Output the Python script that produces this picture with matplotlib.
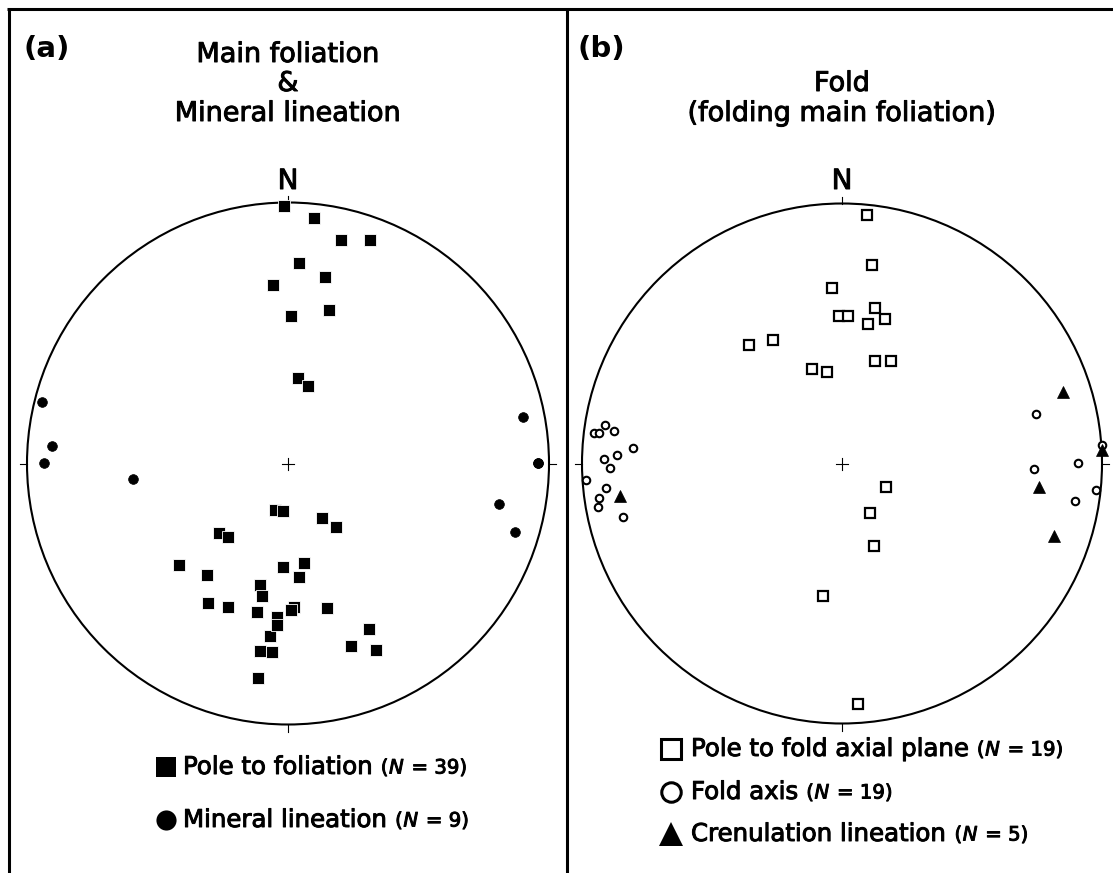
import matplotlib
matplotlib.use('Agg')
import matplotlib.pyplot as plt
import matplotlib.patheffects as pe
from matplotlib.patches import Circle

plt.rcParams['font.family'] = ['DejaVu Sans']

# --- data: positions on the equal-area net (east, north), unit radius ---
# (a) pole to foliation, N = 39
fol_e = [-0.014, 0.101, 0.202, 0.313, 0.042, 0.142, -0.057, 0.158, 0.010, 0.038, 0.078,
         -0.050, -0.018, 0.129, 0.185, -0.263, -0.230, -0.418, -0.310, -0.018, 0.061,
         0.041, -0.106, -0.098, -0.307, -0.230, -0.119, -0.069, -0.042, -0.042, 0.023,
         0.010, 0.149, 0.309, 0.241, 0.337, -0.106, -0.061, -0.114]
fol_n = [0.987, 0.941, 0.856, 0.856, 0.769, 0.716, 0.685, 0.588, 0.565, 0.329, 0.297,
         -0.178, -0.182, -0.210, -0.242, -0.267, -0.283, -0.390, -0.426, -0.398, -0.382,
         -0.434, -0.466, -0.507, -0.534, -0.550, -0.570, -0.660, -0.587, -0.618, -0.549,
         -0.561, -0.554, -0.634, -0.698, -0.713, -0.718, -0.722, -0.822]

# (a) mineral lineation, N = 9 (one hidden under another)
lin_e = [-0.942, -0.905, -0.934, -0.594, 0.902, 0.957, 0.957, 0.810, 0.870]
lin_n = [0.237, 0.066, 0.002, -0.061, 0.177, 0.002, 0.002, -0.155, -0.262]

# (b) pole to fold axial plane, N = 19
fap_e = [0.097, 0.117, -0.038, -0.010, 0.024, 0.127, 0.101, 0.165, -0.267, -0.359,
         -0.114, -0.059, 0.127, 0.190, 0.169, 0.107, 0.122, -0.074, 0.062]
fap_n = [0.957, 0.763, 0.676, 0.567, 0.567, 0.599, 0.535, 0.556, 0.475, 0.456,
         0.362, 0.351, 0.394, 0.394, -0.090, -0.190, -0.318, -0.511, -0.925]

# (b) fold axis, N = 19
fax_e = [-0.954, -0.936, -0.913, -0.877, -0.804, -0.864, -0.892, -0.914, -0.986, -0.938,
         -0.933, -0.909, -0.842, 0.747, 1.000, 0.908, 0.740, 0.977, 0.897]
fax_n = [0.118, 0.116, 0.148, 0.125, 0.058, 0.034, -0.016, 0.017, -0.065, -0.166,
         -0.132, -0.094, -0.206, 0.192, 0.072, 0.002, -0.021, -0.102, -0.143]

# (b) crenulation lineation, N = 5
cre_e = [0.849, 0.758, 0.817, 1.000, -0.855]
cre_n = [0.276, -0.089, -0.278, 0.052, -0.125]

W, H = 1113, 873
fig = plt.figure(figsize=(W / 100, H / 100), dpi=100)

# overlay in pixel units for frame, titles and legends
bg = fig.add_axes([0, 0, 1, 1])
bg.set_xlim(0, W)
bg.set_ylim(H, 0)
bg.axis('off')

# frame
bg.plot([7, W], [9, 9], color='black', lw=2.2, solid_capstyle='butt')
bg.plot([8.5, 8.5], [7.5, H], color='black', lw=2.2, solid_capstyle='butt')
bg.plot([567, 567], [7.5, H], color='black', lw=2.2, solid_capstyle='butt')

# slightly heavier strokes for the text
heavy = [pe.withStroke(linewidth=0.7, foreground='black')]


def net_axes(cx, cy, R):
    ax = fig.add_axes([(cx - R) / W, (H - cy - R) / H, 2 * R / W, 2 * R / H])
    ax.set_xlim(-1, 1)
    ax.set_ylim(-1, 1)
    ax.axis('off')
    ax.add_patch(Circle((0, 0), 1, fill=False, lw=1.5, ec='black', clip_on=False))
    t = 7.0 / R
    for x0, y0, x1, y1 in [(0, 1, 0, 1 + t), (0, -1, 0, -1 - t),
                           (1, 0, 1 + t, 0), (-1, 0, -1 - t, 0)]:
        ax.plot([x0, x1], [y0, y1], color='black', lw=0.8, clip_on=False)
    c = 6.0 / R
    ax.plot([-c, c], [0, 0], color='black', lw=0.8)
    ax.plot([0, 0], [-c, c], color='black', lw=0.8)
    return ax


axa = net_axes(288, 463.5, 261)
axb = net_axes(842, 463.5, 260)

axa.plot(fol_e, fol_n, ls='none', marker='s', ms=8.2, mfc='black', mec='white',
         mew=0.6, clip_on=False)
axa.plot(lin_e, lin_n, ls='none', marker='o', ms=7.0, mfc='black', mec='black',
         mew=0.5, clip_on=False)

axb.plot(fap_e, fap_n, ls='none', marker='s', ms=7.3, mfc='white', mec='black',
         mew=1.6, clip_on=False)
axb.plot(fax_e, fax_n, ls='none', marker='o', ms=5.4, mfc='white', mec='black',
         mew=1.5, clip_on=False)
axb.plot(cre_e, cre_n, ls='none', marker='^', ms=9.2, mfc='black', mec='black',
         mew=0.5, clip_on=False)

# titles
TS = 19.5
bg.text(23, 49, '(a)', fontsize=21, fontweight='bold', ha='left', va='center')
bg.text(578, 49, '(b)', fontsize=21, fontweight='bold', ha='left', va='center')
bg.text(288, 55, 'Main foliation', fontsize=TS, ha='center', va='center', path_effects=heavy)
bg.text(288, 84, '&', fontsize=TS, ha='center', va='center', path_effects=heavy)
bg.text(288, 114, 'Mineral lineation', fontsize=TS, ha='center', va='center', path_effects=heavy)
bg.text(842, 84, 'Fold', fontsize=TS, ha='center', va='center', path_effects=heavy)
bg.text(842, 114, '(folding main foliation)', fontsize=TS, ha='center', va='center',
        path_effects=heavy)
bg.text(288, 181, 'N', fontsize=20, ha='center', va='center', path_effects=heavy)
bg.text(842, 181, 'N', fontsize=20, ha='center', va='center', path_effects=heavy)

renderer = fig.canvas.get_renderer()


def rich(x, y, label, n):
    t = bg.text(x, y, label, fontsize=17.6, ha='left', va='center', path_effects=heavy)
    x = t.get_window_extent(renderer).x1 + 8
    for s, st, gap in [('(', 'normal', 0.5), ('N', 'italic', 1.5), (' = %d)' % n, 'normal', 0)]:
        t = bg.text(x, y + 1, s, fontsize=14.2, fontstyle=st, ha='left', va='center',
                    path_effects=heavy)
        x = t.get_window_extent(renderer).x1 + gap


# legend (a)
bg.plot([166], [767], marker='s', ms=14.5, mfc='black', mec='black', mew=0)
rich(183, 767, 'Pole to foliation', 39)
bg.plot([166], [820], marker='o', ms=14.5, mfc='black', mec='black', mew=0)
rich(183, 820, 'Mineral lineation', 9)

# legend (b)
bg.plot([670.5], [749], marker='s', ms=14.5, mfc='white', mec='black', mew=2.2)
rich(691, 749, 'Pole to fold axial plane', 19)
bg.plot([670.5], [792], marker='o', ms=14.0, mfc='white', mec='black', mew=2.2)
rich(691, 792, 'Fold axis', 19)
bg.plot([670.5], [834], marker='^', ms=17.0, mfc='black', mec='black', mew=0)
rich(691, 834, 'Crenulation lineation', 5)

fig.savefig('out.png', dpi=100)
